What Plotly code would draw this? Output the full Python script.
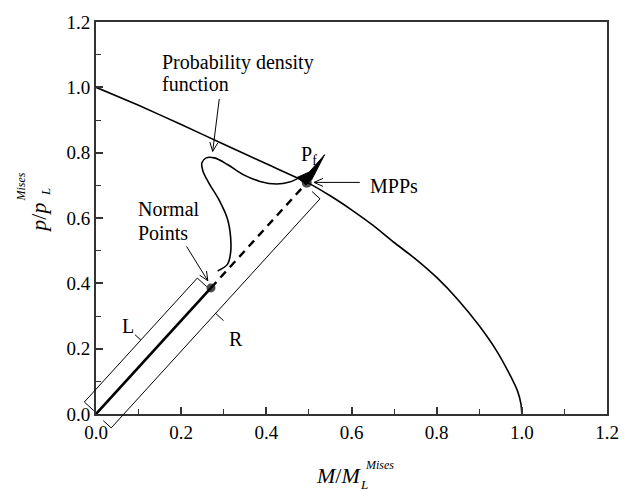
import math
import plotly.graph_objects as go

# ---------------- data ----------------
X_RANGE = [0.0, 1.2]
Y_RANGE = [0.0, 1.2]
tick_vals = [0.0, 0.2, 0.4, 0.6, 0.8, 1.0, 1.2]
tick_text = ["0.0", "0.2", "0.4", "0.6", "0.8", "1.0", "1.2"]

# limit-state curve
limit_M = [0.0, 0.1, 0.2, 0.3, 0.4, 0.5, 0.55, 0.6, 0.65, 0.7, 0.75, 0.8,
           0.85, 0.9, 0.94, 0.97, 0.99, 0.998, 1.0]
limit_p = [1.0, 0.945, 0.886, 0.826, 0.766, 0.706, 0.668, 0.625, 0.578, 0.525,
           0.475, 0.418, 0.35, 0.27, 0.195, 0.125, 0.07, 0.03, 0.0]

# probability density function outline
pdf_M = [0.2856, 0.3086, 0.316, 0.316, 0.3086, 0.2895, 0.2665, 0.251, 0.2487,
         0.2587, 0.278, 0.3086, 0.347, 0.385, 0.4238, 0.4544, 0.4813]
pdf_p = [0.438, 0.458, 0.493, 0.543, 0.598, 0.654, 0.704, 0.744, 0.769,
         0.784, 0.784, 0.764, 0.732, 0.712, 0.704, 0.71, 0.726]

# failure probability region P_f
pf_M = [0.472, 0.501, 0.537, 0.506, 0.493, 0.472]
pf_p = [0.724, 0.741, 0.794, 0.716, 0.702, 0.724]

origin_M, origin_p = [0.0], [0.0]
normal_M, normal_p = [0.270], [0.386]
mpp_M, mpp_p = [0.495], [0.708]

# ---------------- layout geometry ----------------
W, H = 631, 491
ML, MR, MT, MB = 96, 14, 15, 77
PW, PH = W - ML - MR, H - MT - MB
SX = PW / (X_RANGE[1] - X_RANGE[0])
SY = PH / (Y_RANGE[1] - Y_RANGE[0])

FONT = "Liberation Serif"
BLACK = "#000000"

fig = go.Figure()

fig.add_trace(go.Scatter(x=limit_M, y=limit_p, mode="lines",
                         line=dict(color=BLACK, width=1.6, shape="spline", smoothing=0.5),
                         hoverinfo="skip", showlegend=False))
fig.add_trace(go.Scatter(x=pdf_M, y=pdf_p, mode="lines",
                         line=dict(color=BLACK, width=1.6, shape="spline", smoothing=1.0),
                         hoverinfo="skip", showlegend=False))
fig.add_trace(go.Scatter(x=origin_M + normal_M, y=origin_p + normal_p, mode="lines",
                         line=dict(color=BLACK, width=2.6), hoverinfo="skip", showlegend=False))
fig.add_trace(go.Scatter(x=normal_M + mpp_M, y=normal_p + mpp_p, mode="lines",
                         line=dict(color=BLACK, width=2.4, dash="8px,6px"),
                         hoverinfo="skip", showlegend=False))
fig.add_trace(go.Scatter(x=pf_M, y=pf_p, mode="lines", fill="toself", fillcolor=BLACK,
                         line=dict(color=BLACK, width=1), hoverinfo="skip", showlegend=False))
fig.add_trace(go.Scatter(x=normal_M + mpp_M, y=normal_p + mpp_p, mode="markers",
                         marker=dict(color=BLACK, size=[9, 10], line=dict(width=0)),
                         hoverinfo="skip", showlegend=False))

# ---------------- helpers: pixel-space geometry on axis domain ----------------
def to_frac(px, py):
    """pixel position measured from data origin (y up) -> axis-domain fraction"""
    return ((0 - X_RANGE[0]) * SX + px) / PW, ((0 - Y_RANGE[0]) * SY + py) / PH

def data_px(M, p):
    return M * SX, p * SY

shapes = []

def seg(p0, p1, width=1.0):
    x0, y0 = to_frac(*p0)
    x1, y1 = to_frac(*p1)
    shapes.append(dict(type="line", xref="x domain", yref="y domain",
                       x0=x0, y0=y0, x1=x1, y1=y1,
                       line=dict(color=BLACK, width=width)))

# brackets L and R, parallel to the origin-MPP line
ux, uy = data_px(mpp_M[0], mpp_p[0])
ulen = math.hypot(ux, uy)
ux, uy = ux / ulen, uy / ulen
nRx, nRy = uy, -ux
nLx, nLy = -nRx, -nRy

def bracket(t0, t1, nx, ny, d, hook, tick):
    a = (t0 * ux + d * nx, t0 * uy + d * ny)
    b = (t1 * ux + d * nx, t1 * uy + d * ny)
    seg(a, b)
    seg(a, (a[0] - hook * nx, a[1] - hook * ny))
    seg(b, (b[0] - hook * nx, b[1] - hook * ny))
    m = ((a[0] + b[0]) / 2, (a[1] + b[1]) / 2)
    seg(m, (m[0] + tick * nx, m[1] + tick * ny))

len_normal = math.hypot(*data_px(normal_M[0], normal_p[0]))
len_mpp = math.hypot(*data_px(mpp_M[0], mpp_p[0]))
bracket(1.0, len_normal - 2, nLx, nLy, 17, 13, 8)
bracket(0.0, len_mpp - 3, nRx, nRy, 21, 11, 11)

# thin arrows with open V heads
def arrow(tail, head, hl=10, spread=0.42):
    t = data_px(*tail)
    h = data_px(*head)
    seg(t, h)
    dx, dy = t[0] - h[0], t[1] - h[1]
    L = math.hypot(dx, dy)
    dx, dy = dx / L, dy / L
    for s in (spread, -spread):
        c, sn = math.cos(s), math.sin(s)
        rx, ry = dx * c - dy * sn, dx * sn + dy * c
        seg(h, (h[0] + hl * rx, h[1] + hl * ry))

arrow((0.2895, 0.9645), (0.274, 0.804))
arrow((0.2126, 0.513), (0.2626, 0.408))
arrow((0.6195, 0.709), (0.512, 0.709))

# ---------------- annotations ----------------
ann = []

def text(x, y, s, size=20, xanchor="left"):
    ann.append(dict(x=x, y=y, xref="x", yref="y", text=s, showarrow=False,
                    xanchor=xanchor, yanchor="middle",
                    font=dict(family=FONT, size=size, color=BLACK)))

text(0.151, 1.0746, "Probability density")
text(0.151, 1.0096, "function")
text(0.095, 0.6286, "Normal")
text(0.095, 0.5534, "Points")
text(0.638, 0.6986, "MPPs")
text(0.477, 0.792, "P<sub>f</sub>")
text(0.074, 0.268, "L", xanchor="center")
text(0.328, 0.229, "R", xanchor="center")

def paper(px, py):
    return (px - ML) / PW, (H - MB - py) / PH

def ptext(px, py, s, size, xanchor="center", yanchor="middle", angle=0):
    x, y = paper(px, py)
    ann.append(dict(x=x, y=y, xref="paper", yref="paper", text=s, showarrow=False,
                    xanchor=xanchor, yanchor=yanchor, textangle=angle,
                    font=dict(family=FONT, size=size, color=BLACK)))

ptext(368, 477, "<i>M</i>/<i>M</i>", 22, xanchor="right")
ptext(363, 486, "<i>L</i>", 13, xanchor="left")
ptext(368, 466, "<i>Mises</i>", 12, xanchor="left")

ptext(37, 214, "<i>p</i>/<i>p</i>", 22, angle=-90)
ptext(45, 188, "<i>L</i>", 13, angle=-90)
ptext(20, 183, "<i>Mises</i>", 12, angle=-90)

axis_common = dict(
    tickmode="array", tickvals=tick_vals, ticktext=tick_text,
    ticks="inside", ticklen=7, tickwidth=1.5, tickcolor="#333333",
    minor=dict(ticks="inside", ticklen=5, tickwidth=1.2, tickcolor="#333333", dtick=0.1),
    showline=True, linecolor="#333333", linewidth=2, mirror=True,
    showgrid=False, zeroline=False,
    tickfont=dict(family=FONT, size=19, color=BLACK),
)

fig.update_layout(
    width=W, height=H,
    margin=dict(l=ML, r=MR, t=MT, b=MB),
    paper_bgcolor="white", plot_bgcolor="white",
    font=dict(family=FONT, color=BLACK),
    xaxis=dict(axis_common, range=X_RANGE),
    yaxis=dict(axis_common, range=Y_RANGE),
    shapes=shapes, annotations=ann, showlegend=False,
)

fig.write_html("out.html")
